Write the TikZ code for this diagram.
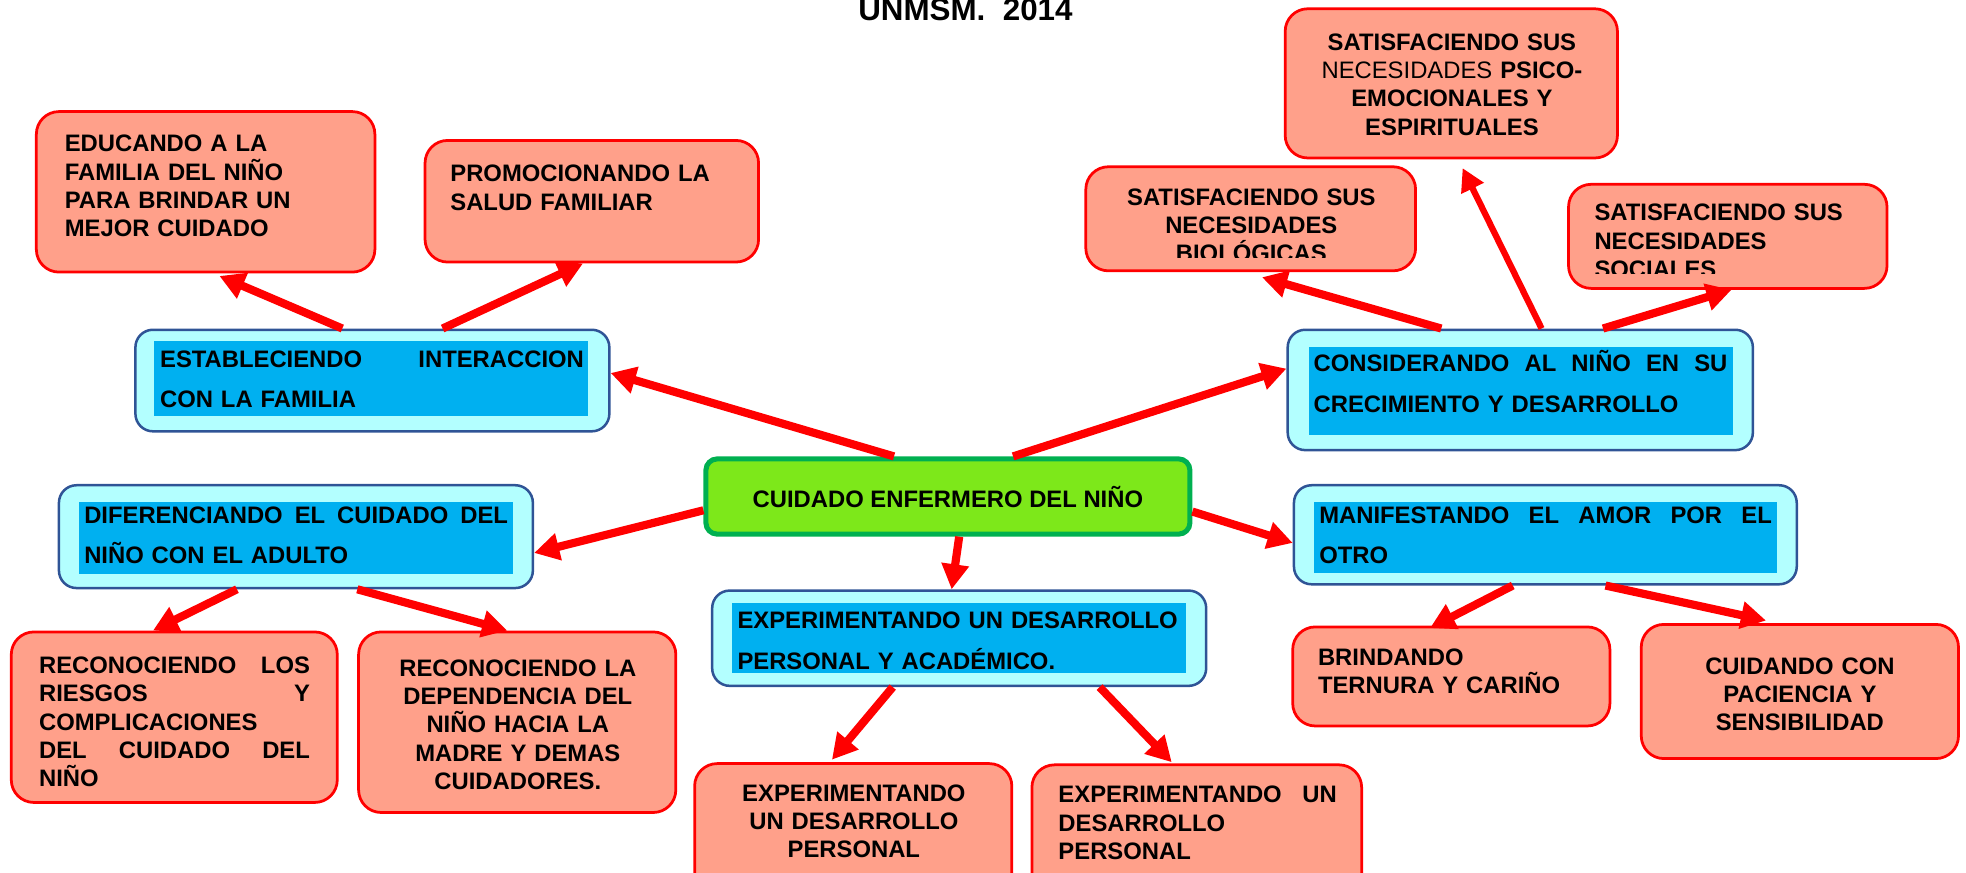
\documentclass[tikz,border=0pt]{standalone}
\usepackage{fontspec}
\setmainfont{Liberation Sans}
\usetikzlibrary{arrows.meta}

\definecolor{salmon}{HTML}{FFA08A}
\definecolor{rojo}{HTML}{FF0000}
\definecolor{celeste}{HTML}{B3FFFF}
\definecolor{azul}{HTML}{00B0F0}
\definecolor{marco}{HTML}{2F5496}
\definecolor{verde}{HTML}{7DE81A}
\definecolor{verdeosc}{HTML}{00B050}

\tikzset{
  rojobox/.style={draw=rojo, line width=2.2pt, fill=salmon, rounded corners=18pt, inner sep=0pt},
  azulbox/.style={draw=marco, line width=2pt, fill=celeste, rounded corners=14pt, inner sep=0pt},
  franja/.style={fill=azul, inner sep=0pt},
  txt/.style={inner sep=0pt, font=\bfseries\fontsize{19}{22.6}\selectfont},
  txtazul/.style={inner sep=0pt, align=left, font=\bfseries\fontsize{19}{32.5}\selectfont},
  flecha/.style={draw=rojo, line width=6.5pt, -{Triangle[length=20pt,width=21pt]}},
}

\begin{document}
\begin{tikzpicture}[x=1pt, y=-1pt]
\useasboundingbox (0,0) rectangle (1568,696);

% titulo
\node[inner sep=0pt, anchor=base, font=\bfseries\fontsize{25}{30}\selectfont] (titulo) at (770,16.5) {UNMSM.\ \ 2014};

% nodo central
\node[draw=verdeosc, line width=4pt, fill=verde, rounded corners=9pt, minimum width=386pt, minimum height=60pt,
  inner sep=0pt, font=\bfseries\fontsize{19}{22.6}\selectfont] (nino) at (756,396) {CUIDADO ENFERMERO DEL NI\~NO};

% ramas azules
\node[azulbox, minimum width=378pt, minimum height=81pt] (inter) at (297,303.5) {};
\node[franja, minimum width=346pt, minimum height=60pt] (inter-f) at (296,302) {};
\node[txtazul, text width=338pt, anchor=base west] (inter-t) at (127.5,292.8) {ESTABLECIENDO\hfill INTERACCION\\CON LA FAMILIA};

\node[azulbox, minimum width=371pt, minimum height=96pt] (creci) at (1212.5,311) {};
\node[franja, minimum width=338pt, minimum height=70pt] (creci-f) at (1213,312) {};
\node[txtazul, text width=330pt, anchor=base west] (creci-t) at (1047.5,296.5) {CONSIDERANDO\hfill AL\hfill NI\~NO\hfill EN\hfill SU\\CRECIMIENTO Y DESARROLLO};

\node[azulbox, minimum width=378pt, minimum height=82pt] (difer) at (236,428) {};
\node[franja, minimum width=346pt, minimum height=58pt] (difer-f) at (236,429) {};
\node[txtazul, text width=338pt, anchor=base west] (difer-t) at (67,417.3) {DIFERENCIANDO\hfill EL\hfill CUIDADO\hfill DEL\\NI\~NO CON EL ADULTO};

\node[azulbox, minimum width=394pt, minimum height=76pt] (exper) at (765,509) {};
\node[franja, minimum width=362pt, minimum height=56pt] (exper-f) at (765,509) {};
\node[txtazul, text width=358pt, anchor=base west] (exper-t) at (588,501.3) {EXPERIMENTANDO UN DESARROLLO\\PERSONAL Y ACAD\'EMICO.};

\node[azulbox, minimum width=401pt, minimum height=79pt] (amor) at (1232.5,426.5) {};
\node[franja, minimum width=369pt, minimum height=57pt] (amor-f) at (1232.5,428.5) {};
\node[txtazul, text width=361pt, anchor=base west] (amor-t) at (1052,417.3) {MANIFESTANDO\hfill EL\hfill AMOR\hfill POR\hfill EL\\OTRO};

% cajas rojas superiores
\node[rojobox, minimum width=270pt, minimum height=128pt] (edu) at (164,153) {};
\node[txt, align=left, text width=240pt, anchor=base west] (edu-t) at (51.5,121.1) {EDUCANDO A LA\\FAMILIA DEL NI\~NO\\PARA BRINDAR UN\\MEJOR CUIDADO};

\node[rojobox, minimum width=266pt, minimum height=97pt] (promo) at (472,160.5) {};
\node[txt, align=left, text width=240pt, anchor=base west] (promo-t) at (359,145) {PROMOCIONANDO LA\\SALUD FAMILIAR};

\node[rojobox, minimum width=265pt, minimum height=119pt] (psico) at (1157.5,66.5) {};
\node[txt, align=center, text width=245pt, anchor=base] (psico-t) at (1158,40) {SATISFACIENDO SUS\\{\mdseries NECESIDADES} PSICO-\\EMOCIONALES Y\\ESPIRITUALES};

\node[rojobox, minimum width=263pt, minimum height=83pt] (bio) at (997.5,174.5) {};
\begin{scope}
  \clip (865,132) rectangle (1130,205);
  \node[txt, align=center, text width=240pt, anchor=base] (bio-t) at (998,163.7) {SATISFACIENDO SUS\\NECESIDADES\\BIOL\'OGICAS};
\end{scope}

\node[rojobox, minimum width=254pt, minimum height=83pt] (soc) at (1378,188.5) {};
\begin{scope}
  \clip (1250,146) rectangle (1506,218);
  \node[txt, align=left, text width=225pt, anchor=base west] (soc-t) at (1271.5,176.1) {SATISFACIENDO SUS\\NECESIDADES\\SOCIALES};
\end{scope}

% cajas rojas inferiores
\node[rojobox, minimum width=260pt, minimum height=136pt] (riesgo) at (139,572) {};
\node[txt, align=left, text width=216pt, anchor=base west] (riesgo-t) at (31,537.2) {RECONOCIENDO\hfill LOS\\RIESGOS\hfill Y\\COMPLICACIONES\\DEL\hfill CUIDADO\hfill DEL\\NI\~NO};

\node[rojobox, minimum width=253pt, minimum height=144pt] (depend) at (412.5,576) {};
\node[txt, align=center, text width=230pt, anchor=base] (depend-t) at (413,539.3) {RECONOCIENDO LA\\DEPENDENCIA DEL\\NI\~NO HACIA LA\\MADRE Y DEMAS\\CUIDADORES.};

\node[rojobox, minimum width=253pt, minimum height=104pt] (perso1) at (680.5,661) {};
\node[txt, align=center, text width=230pt, anchor=base] (perso1-t) at (681,639) {EXPERIMENTANDO\\UN DESARROLLO\\PERSONAL};

\node[rojobox, minimum width=263pt, minimum height=104pt] (perso2) at (954.5,662) {};
\node[txt, align=left, text width=222pt, anchor=base west] (perso2-t) at (844,640.3) {EXPERIMENTANDO\hfill UN\\DESARROLLO\\PERSONAL};

\node[rojobox, minimum width=253pt, minimum height=79pt] (ternura) at (1157.5,539.5) {};
\node[txt, align=left, text width=225pt, anchor=base west] (ternura-t) at (1051,530.5) {BRINDANDO\\TERNURA Y CARI\~NO};

\node[rojobox, minimum width=253pt, minimum height=107pt] (pacien) at (1435.5,551.5) {};
\node[txt, align=center, text width=230pt, anchor=base] (pacien-t) at (1435.5,537.8) {CUIDANDO CON\\PACIENCIA Y\\SENSIBILIDAD};

% flechas desde el centro
\draw[flecha] ([xshift=-43pt]nino.north) -- ([yshift=6pt]inter.east);
\draw[flecha] ([xshift=52pt]nino.north) -- ([yshift=17pt]creci.west);
\draw[flecha] ([yshift=-11pt]nino.west) -- ([yshift=-13pt]difer.east);
\draw[flecha] ([xshift=9pt]nino.south) -- ([xshift=-6pt]exper.north);
\draw[flecha] ([yshift=-12pt]nino.east) -- ([yshift=-6.5pt]amor.west);

% flechas secundarias
\draw[flecha] ([xshift=-24pt]inter.north) -- ([xshift=11pt,yshift=-2pt]edu.south);
\draw[flecha] ([xshift=56pt]inter.north) -- ([xshift=-7pt]promo.south);
\draw[flecha] ([xshift=-63pt]creci.north) -- ([xshift=9pt,yshift=-4pt]bio.south);
\draw[flecha, line width=5pt, -{Triangle[length=18pt,width=19pt]}] ([xshift=17pt]creci.north) -- ([xshift=9pt,yshift=-7pt]psico.south);
\draw[flecha] ([xshift=66pt]creci.north) -- ([xshift=3pt]soc.south);
\draw[flecha] ([xshift=-47pt]difer.south) -- ([xshift=-17pt]riesgo.north);
\draw[flecha] ([xshift=49pt]difer.south) -- ([xshift=-8pt]depend.north);
\draw[flecha] ([xshift=-53pt]exper.south) -- ([xshift=-17pt,yshift=2pt]perso1.north);
\draw[flecha] ([xshift=112pt]exper.south) -- ([xshift=-20pt,yshift=1pt]perso2.north);
\draw[flecha] ([xshift=-26pt]amor.south) -- ([xshift=-17pt,yshift=-2pt]ternura.north);
\draw[flecha] ([xshift=48pt]amor.south) -- ([xshift=-27pt,yshift=2pt]pacien.north);
\end{tikzpicture}
\end{document}
